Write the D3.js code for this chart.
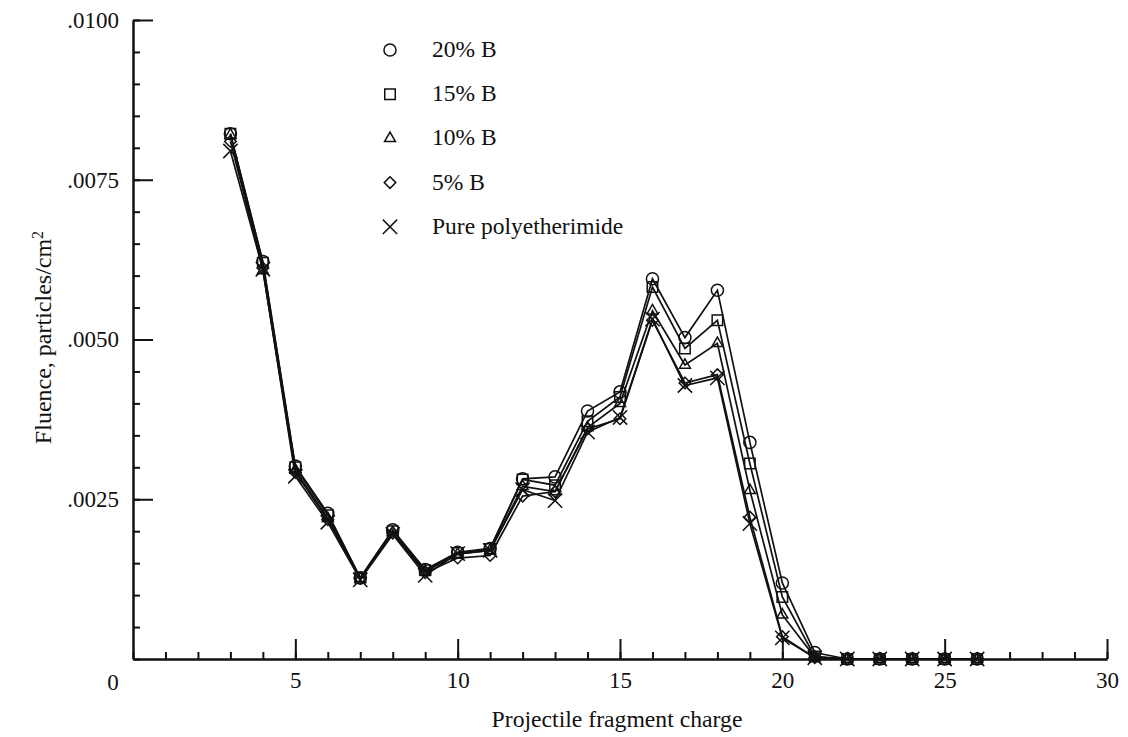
<!DOCTYPE html>
<html lang="en">
<head>
<meta charset="utf-8">
<title>Fluence vs projectile fragment charge</title>
<script src="https://d3js.org/d3.v7.min.js"></script>
<style>
  body { margin: 0; background: #fff; }
  svg { font-family: 'Liberation Serif', 'Times New Roman', serif; }
  .axis path, .axis line { stroke: #111; stroke-width: 2; }
  .axis text { font-size: 23px; fill: #111; font-family: 'Liberation Serif', serif; }
</style>
</head>
<body>
<script>
// fragment charge (x) and fluence for each boron loading
const charge = [3, 4, 5, 6, 7, 8, 9, 10, 11, 12, 13, 14, 15, 16, 17, 18, 19, 20, 21, 22, 23, 24, 25, 26];
const b20  = [0.00822, 0.00622, 0.00302, 0.00228, 0.00127, 0.00202, 0.00140, 0.00167, 0.00173, 0.00282, 0.00285, 0.00388, 0.00418, 0.00595, 0.00503, 0.00577, 0.00339, 0.00119, 0.00010, 0, 0, 0, 0, 0];
const b15  = [0.00822, 0.00620, 0.00300, 0.00225, 0.00127, 0.00200, 0.00139, 0.00166, 0.00172, 0.00281, 0.00272, 0.00372, 0.00410, 0.00582, 0.00486, 0.00530, 0.00306, 0.00097, 0.00004, 0, 0, 0, 0, 0];
const b10  = [0.00820, 0.00608, 0.00296, 0.00220, 0.00126, 0.00198, 0.00137, 0.00164, 0.00170, 0.00270, 0.00262, 0.00362, 0.00400, 0.00545, 0.00460, 0.00494, 0.00264, 0.00069, 0.00003, 0, 0, 0, 0, 0];
const b5   = [0.00810, 0.00612, 0.00292, 0.00218, 0.00126, 0.00197, 0.00135, 0.00158, 0.00162, 0.00255, 0.00262, 0.00360, 0.00376, 0.00530, 0.00432, 0.00445, 0.00222, 0.00035, 0.00002, 0, 0, 0, 0, 0];
const pure = [0.00795, 0.00610, 0.00286, 0.00214, 0.00124, 0.00195, 0.00131, 0.00165, 0.00170, 0.00265, 0.00248, 0.00355, 0.00378, 0.00532, 0.00428, 0.00440, 0.00212, 0.00033, 0.00002, 0, 0, 0, 0, 0];

const seriesNames = ["20% B", "15% B", "10% B", "5% B", "Pure polyetherimide"];
const seriesValues = [b20, b15, b10, b5, pure];

const xMajor = [5, 10, 15, 20, 25, 30];
const yMajor = [0.0025, 0.005, 0.0075, 0.01];
const yLabels = [".0025", ".0050", ".0075", ".0100"];

const W = 1128, H = 737;
const margin = {top: 20, right: 21, bottom: 78, left: 133};
const width = W - margin.left - margin.right,
      height = H - margin.top - margin.bottom;

const svg = d3.select("body").append("svg")
    .attr("width", W).attr("height", H);
const g = svg.append("g")
    .attr("transform", "translate(" + margin.left + "," + margin.top + ")");

const x = d3.scaleLinear().domain([0, 30]).range([0, width]);
const y = d3.scaleLinear().domain([0, 0.01]).range([height, 0]);

// minor ticks
g.append("g").attr("class", "axis")
    .call(d3.axisLeft(y).tickValues(d3.range(0, 0.01001, 0.0005)).tickSize(-7).tickSizeOuter(0).tickFormat(""));
g.append("g").attr("class", "axis")
    .attr("transform", "translate(0," + height + ")")
    .call(d3.axisBottom(x).tickValues(d3.range(0, 31, 1)).tickSize(-7).tickSizeOuter(0).tickFormat(""));

// major ticks
g.append("g").attr("class", "axis")
    .call(d3.axisLeft(y).tickValues(yMajor).tickSize(-20).tickSizeOuter(0).tickPadding(14)
        .tickFormat((d, i) => yLabels[i]));
g.append("g").attr("class", "axis")
    .attr("transform", "translate(0," + height + ")")
    .call(d3.axisBottom(x).tickValues(xMajor).tickSize(-20).tickSizeOuter(0).tickPadding(13));

g.append("text")
    .attr("x", x(0) - 20).attr("y", height + 31)
    .attr("text-anchor", "middle")
    .style("font-size", "23px").attr("fill", "#111")
    .text("0");

// axis titles
svg.append("text")
    .attr("x", margin.left + x(15) - 3).attr("y", 727)
    .attr("text-anchor", "middle")
    .style("font-size", "23.7px").attr("fill", "#111")
    .text("Projectile fragment charge");

const yt = svg.append("text")
    .attr("transform", "translate(51," + (margin.top + y(0.005) - 2) + ") rotate(-90)")
    .attr("text-anchor", "middle")
    .style("font-size", "24px").attr("fill", "#111");
yt.append("tspan").text("Fluence, particles/cm");
yt.append("tspan").attr("baseline-shift", "super").style("font-size", "16px").text("2");

// symbols
const symbols = [
    d3.symbol().type(d3.symbolCircle).size(115),
    d3.symbol().type(d3.symbolSquare).size(110),
    d3.symbol().type(d3.symbolTriangle2).size(85),
    d3.symbol().type(d3.symbolDiamond2).size(85),
    d3.symbol().type(d3.symbolX).size(135)
];

const line = d3.line()
    .x((d, i) => x(charge[i]))
    .y(d => y(d));

seriesValues.forEach((vals, s) => {
    g.append("path")
        .datum(vals)
        .attr("fill", "none")
        .attr("stroke", "#111")
        .attr("stroke-width", 1.7)
        .attr("d", line);
});

seriesValues.forEach((vals, s) => {
    g.append("g").selectAll("path")
        .data(vals)
        .join("path")
        .attr("transform", (d, i) => "translate(" + x(charge[i]) + "," + y(d) + ")")
        .attr("d", symbols[s])
        .attr("fill", "none")
        .attr("stroke", "#111")
        .attr("stroke-width", 1.5);
});

// legend
const legend = svg.append("g").attr("transform", "translate(390,50)");
seriesNames.forEach((name, s) => {
    const row = legend.append("g").attr("transform", "translate(0," + (s * 44.2) + ")");
    row.append("path").attr("d", symbols[s])
        .attr("fill", "none").attr("stroke", "#111").attr("stroke-width", 1.5);
    row.append("text")
        .attr("x", 42).attr("y", 7)
        .style("font-size", "23.5px").attr("fill", "#111")
        .text(name);
});
</script>
</body>
</html>
